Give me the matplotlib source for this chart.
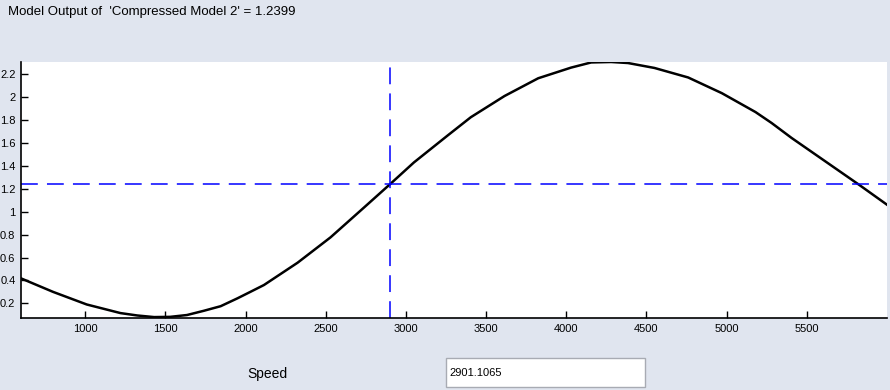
import matplotlib
matplotlib.use("Agg")
import matplotlib.pyplot as plt
from matplotlib.patches import Rectangle

# values
speed = [600, 800, 1010, 1220, 1325, 1430, 1530, 1635, 1740, 1845, 1950,
         2030, 2115, 2325, 2530, 2740, 2905, 3050, 3260, 3405, 3615, 3825,
         4030, 4155, 4280, 4385, 4550, 4760, 4970, 5180, 5280, 5405, 5615,
         5825, 6000]
output = [0.418, 0.300, 0.190, 0.115, 0.094, 0.080, 0.082, 0.098, 0.135,
          0.175, 0.244, 0.30, 0.36, 0.555, 0.776, 1.038, 1.245, 1.43, 1.665,
          1.825, 2.01, 2.165, 2.258, 2.303, 2.307, 2.298, 2.255, 2.172, 2.035,
          1.87, 1.775, 1.644, 1.44, 1.236, 1.061]
x_ticks = [1000, 1500, 2000, 2500, 3000, 3500, 4000, 4500, 5000, 5500]
y_ticks = [0.2, 0.4, 0.6, 0.8, 1, 1.2, 1.4, 1.6, 1.8, 2, 2.2]
y_ticklabels = ["0.2", "0.4", "0.6", "0.8", "1", "1.2", "1.4", "1.6", "1.8", "2", "2.2"]
sel_speed = 2901.1065
sel_output = 1.2399
model_name = "Compressed Model 2"

bg = "#e0e5ef"
plt.rcParams["font.family"] = ["Liberation Sans", "DejaVu Sans"]

fig = plt.figure(figsize=(8.9, 3.9), dpi=100, facecolor=bg)
ax = fig.add_axes([21 / 890, 72 / 390, 866 / 890, 256 / 390])

ax.plot(speed, output, color="black", lw=1.8, solid_joinstyle="round")

# crosshair at the selected speed
ax.axvline(sel_speed, color="#0000ff", lw=1.1, linestyle=(0, (11, 6)))
ax.axhline(sel_output, color="#0000ff", lw=1.1, linestyle=(0, (11, 6)))

ax.set_xlim(600, 6000)
ax.set_ylim(0.072, 2.307)
ax.set_xticks(x_ticks)
ax.set_xticklabels([str(t) for t in x_ticks])
ax.set_yticks(y_ticks)
ax.set_yticklabels(y_ticklabels)
ax.tick_params(direction="in", length=5, width=1, labelsize=8, pad=4,
               colors="black")
for s in ["top", "right"]:
    ax.spines[s].set_visible(False)
for s in ["left", "bottom"]:
    ax.spines[s].set_linewidth(1.2)

fig.text(8 / 890, 1 - 12 / 390, f"Model Output of  '{model_name}' = {sel_output}",
         fontsize=9.5, va="center", ha="left")
fig.text(247 / 890, 1 - 374 / 390, "Speed", fontsize=10, va="center", ha="left")

box = Rectangle((446 / 890, 1 - 387 / 390), 199 / 890, 29 / 390,
                transform=fig.transFigure, facecolor="white",
                edgecolor="#a8abb3", lw=1)
fig.patches.append(box)
fig.text(449 / 890, 1 - 373 / 390, f"{sel_speed}", fontsize=8, va="center", ha="left")

fig.savefig("out.png", dpi=100, facecolor=bg)
